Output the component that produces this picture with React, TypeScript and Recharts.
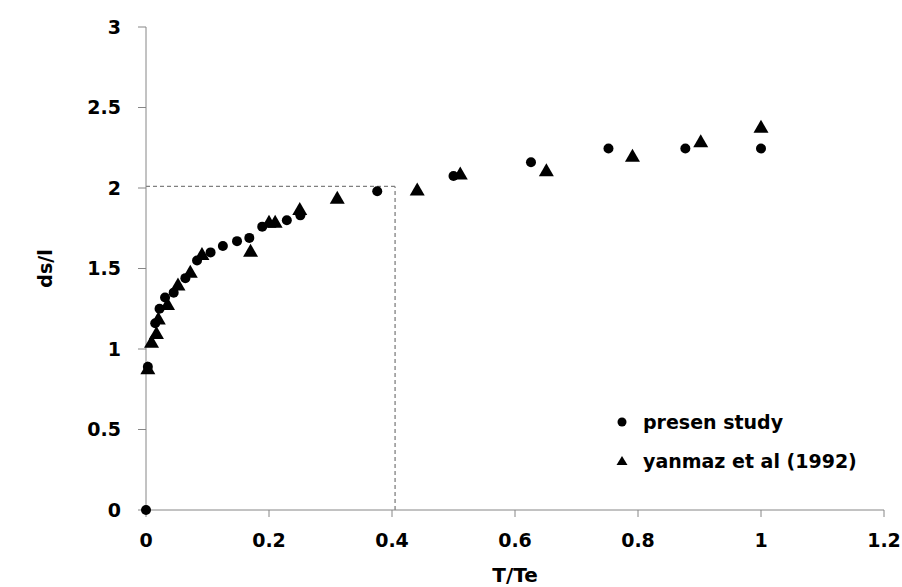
import { ScatterChart, Scatter, XAxis, YAxis, ReferenceLine, Label } from 'recharts';

// present study (circles)
const presentX = [0, 0.003, 0.015, 0.022, 0.031, 0.045, 0.064, 0.083, 0.105, 0.125, 0.148, 0.168, 0.189, 0.229, 0.251, 0.376, 0.5, 0.626, 0.752, 0.877, 1.0];
const presentY = [0, 0.89, 1.16, 1.25, 1.32, 1.35, 1.44, 1.55, 1.6, 1.64, 1.67, 1.69, 1.76, 1.8, 1.83, 1.98, 2.075, 2.16, 2.245, 2.245, 2.245];

// yanmaz et al (1992) (triangles)
const yanmazX = [0.003, 0.009, 0.017, 0.02, 0.035, 0.052, 0.072, 0.091, 0.17, 0.2, 0.21, 0.25, 0.311, 0.441, 0.511, 0.651, 0.791, 0.902, 1.0];
const yanmazY = [0.88, 1.045, 1.1, 1.19, 1.28, 1.4, 1.48, 1.59, 1.61, 1.79, 1.79, 1.87, 1.94, 1.99, 2.09, 2.11, 2.2, 2.29, 2.38];

const xTicks = [0, 0.2, 0.4, 0.6, 0.8, 1, 1.2];
const yTicks = [0, 0.5, 1, 1.5, 2, 2.5, 3];

// dashed guide lines
const cutoffX = 0.405;
const cutoffY = 2.01;

const presentData = presentX.map((x, i) => ({ x, y: presentY[i] }));
const yanmazData = yanmazX.map((x, i) => ({ x, y: yanmazY[i] }));

const FONT = '"DejaVu Sans", sans-serif';
const AXIS_GRAY = '#868686';

const Dot = (props: any) => <circle cx={props.cx} cy={props.cy} r={5} fill="#000" />;

const Tri = (props: any) => {
  const { cx, cy } = props;
  return <polygon points={`${cx},${cy - 7} ${cx - 7.5},${cy + 6} ${cx + 7.5},${cy + 6}`} fill="#000" />;
};

function LegendBox() {
  const items = [
    { name: 'presen study', marker: <circle cx={10} cy={12} r={4.5} fill="#000" /> },
    { name: 'yanmaz et al (1992)', marker: <polygon points="10,7 4.5,16 15.5,16" fill="#000" /> },
  ];
  return (
    <div style={{ position: 'absolute', left: 612, top: 402, fontFamily: FONT, fontWeight: 700, fontSize: 19, color: '#000' }}>
      {items.map(it => (
        <div key={it.name} style={{ display: 'flex', alignItems: 'center', height: 39 }}>
          <svg width={24} height={24} style={{ marginRight: 7 }}>{it.marker}</svg>
          <span>{it.name}</span>
        </div>
      ))}
    </div>
  );
}

export default function App() {
  return (
    <div style={{ position: 'absolute', left: 0, top: 0, width: 902, height: 587, background: '#fff' }}>
      <ScatterChart width={902} height={587} margin={{ top: 27, right: 18, bottom: 0, left: 0 }}>
        <XAxis
          type="number"
          dataKey="x"
          domain={[0, 1.2]}
          ticks={xTicks}
          height={77}
          stroke={AXIS_GRAY}
          tickSize={7}
          tickMargin={17}
          tick={{ fill: '#000', fontFamily: FONT, fontWeight: 700, fontSize: 19 }}
        >
          <Label value="T/Te" position="insideBottom" offset={5} style={{ fill: '#000', fontFamily: FONT, fontWeight: 700, fontSize: 20 }} />
        </XAxis>
        <YAxis
          type="number"
          dataKey="y"
          domain={[0, 3]}
          ticks={yTicks}
          width={146}
          stroke={AXIS_GRAY}
          tickSize={8}
          tickMargin={17}
          tick={{ fill: '#000', fontFamily: FONT, fontWeight: 700, fontSize: 19 }}
        >
          <Label
            content={(p: any) => {
              const vb = p.viewBox;
              const x = vb.x + 45;
              const y = vb.y + vb.height / 2;
              return (
                <text x={x} y={y} transform={`rotate(-90, ${x}, ${y})`} textAnchor="middle" dominantBaseline="central"
                  style={{ fill: '#000', fontFamily: FONT, fontWeight: 700, fontSize: 19 }}>ds/l</text>
              );
            }}
          />
        </YAxis>
        <ReferenceLine segment={[{ x: 0, y: cutoffY }, { x: cutoffX, y: cutoffY }]} stroke="#808080" strokeWidth={1.3} strokeDasharray="4 3" />
        <ReferenceLine segment={[{ x: cutoffX, y: 0 }, { x: cutoffX, y: cutoffY }]} stroke="#808080" strokeWidth={1.3} strokeDasharray="4 3" />
        <Scatter name="presen study" data={presentData} shape={Dot} isAnimationActive={false} />
        <Scatter name="yanmaz et al (1992)" data={yanmazData} shape={Tri} isAnimationActive={false} />
      </ScatterChart>
      <LegendBox />
    </div>
  );
}
